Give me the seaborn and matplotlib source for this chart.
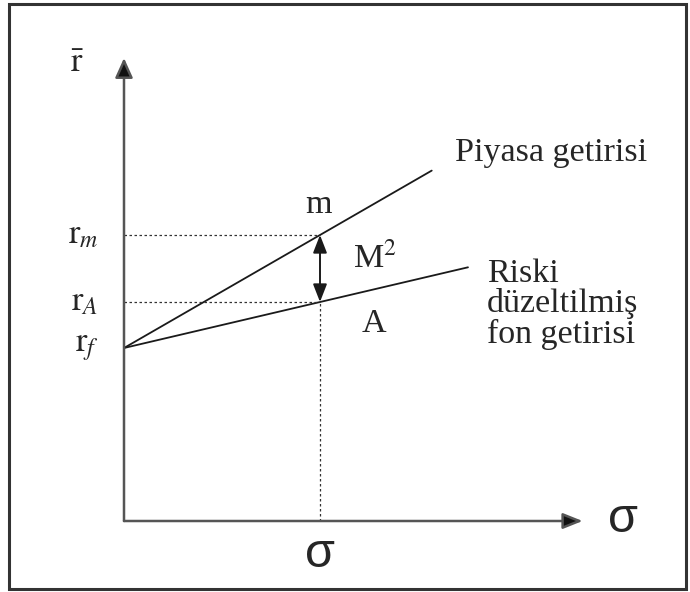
import matplotlib
matplotlib.use("Agg")
import matplotlib.pyplot as plt
import seaborn as sns
import pandas as pd
from matplotlib.patches import Rectangle

sns.set_theme(style="white")
plt.rcParams['font.family'] = ['Liberation Serif', 'DejaVu Serif']
plt.rcParams['mathtext.fontset'] = 'stix'

# conceptual values (sigma units, return units)
sigma_points = [0.0, 1.0]          # origin, fund / market risk
sigma_ends = [1.57, 1.755]         # end of market line, end of fund line
r_f = 1.73
r_A = 2.19
r_m = 2.86
r_market_end = 3.504
r_fund_end = 2.537
axis_x_max = 2.34
axis_y_max = 4.63

lines = pd.DataFrame({
    "sigma": [0.0, sigma_ends[0], 0.0, sigma_ends[1]],
    "ret": [r_f, r_market_end, r_f, r_fund_end],
    "line": ["Piyasa getirisi", "Piyasa getirisi", "Riski düzeltilmiş fon getirisi", "Riski düzeltilmiş fon getirisi"],
})

fig = plt.figure(figsize=(6.9, 5.92), dpi=100)
ax = fig.add_axes([0, 0, 1, 1])
ax.set_xlim(-124 / 196, (690 - 124) / 196)
ax.set_ylim(-0.71, 5.21)
ax.axis("off")

# outer frame
fig.patches.append(Rectangle((9 / 690, 3 / 592), 677 / 690, 585 / 592, transform=fig.transFigure,
                             fill=False, edgecolor="#333333", linewidth=2.2, zorder=0))

axis_col = "#555555"
# axes with arrows
ax.annotate("", xy=(0, axis_y_max), xytext=(0, 0),
            arrowprops=dict(arrowstyle="-|>,head_length=1.0,head_width=0.45", color="#222222",
                            lw=1.8, shrinkA=0, shrinkB=0, ec=axis_col, fc="#111111"))
ax.annotate("", xy=(axis_x_max, 0), xytext=(0, 0),
            arrowprops=dict(arrowstyle="-|>,head_length=1.0,head_width=0.4", color="#222222",
                            lw=1.8, shrinkA=0, shrinkB=0, ec=axis_col, fc="#111111"))

# lines
sns.lineplot(data=lines, x="sigma", y="ret", units="line", estimator=None, color="#1a1a1a",
             linewidth=1.3, ax=ax, legend=False)
ax.set_xlabel("")
ax.set_ylabel("")
ax.axis("off")

# dotted guides
dot = dict(color="#333333", linewidth=0.9, linestyle=(0, (2, 2)))
ax.plot([0, sigma_points[1]], [r_m, r_m], **dot)
ax.plot([0, sigma_points[1]], [r_A, r_A], **dot)
ax.plot([sigma_points[1], sigma_points[1]], [0, r_A], **dot)

# M^2 double arrow
ax.annotate("", xy=(sigma_points[1], r_m), xytext=(sigma_points[1], r_A),
            arrowprops=dict(arrowstyle="<|-|>,head_length=0.9,head_width=0.35", color="#1a1a1a",
                            lw=1.4, shrinkA=0, shrinkB=0))

fs = 24.5
ax.text(-0.24, 4.57, r"$\bar{\mathrm{r}}$", fontsize=fs, ha="center", va="center")
ax.text(-0.13, r_m, r"$\mathrm{r}_{m}$", fontsize=fs, ha="right", va="center")
ax.text(-0.13, r_A, r"$\mathrm{r}_{A}$", fontsize=fs, ha="right", va="center")
ax.text(-0.13, r_f, r"$\mathrm{r}_{f}$", fontsize=fs, ha="right", va="center")
ax.text(sigma_points[1] - 0.01, 3.16, "m", fontsize=fs, ha="center", va="center")
ax.text(sigma_points[1] + 0.17, (r_m + r_A) / 2 + 0.1, r"M$^{2}$", fontsize=fs, ha="left", va="center")
ax.text(sigma_points[1] + 0.21, r_A - 0.07, "A", fontsize=fs, ha="left", va="top")
ax.text(1.69, 3.68, "Piyasa getirisi", fontsize=fs, ha="left", va="center")
ax.text(1.85, 2.17, "Riski\ndüzeltilmiş\nfon getirisi", fontsize=fs, ha="left", va="center",
        linespacing=0.98)
ax.text(sigma_points[1], -0.11, "σ", fontsize=35, family="Liberation Sans", ha="center", va="top")
ax.text(axis_x_max + 0.13, 0.02, "σ", fontsize=35, family="Liberation Sans", ha="left", va="center")

fig.savefig("out.png", dpi=100)
